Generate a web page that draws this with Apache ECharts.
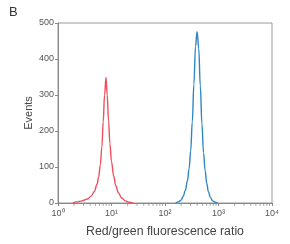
<!DOCTYPE html>
<html><head><meta charset="utf-8">
<script src="https://cdn.jsdelivr.net/npm/echarts@6/dist/echarts.min.js"></script>
<style>html,body{margin:0;padding:0;background:#fff}#c{width:290px;height:244px}</style>
</head><body><div id="c"></div>
<script>
// Red population: [ratio, events]
const redX = [1.905,2.239,2.818,3.548,4.169,4.786,5.370,5.754,6.166,6.607,6.998,7.413,7.889,8.318,8.810,9.333,10.00,10.96,12.02,13.49,15.49,18.20,21.38,25.12];
const redY = [0,3,6,11,19,32,52,72,105,155,225,300,349,300,228,165,115,75,48,28,14,6,2,0];
// Blue population
const blueX = [158.5,177.8,199.5,218.8,240.0,263.0,281.8,302.0,323.6,346.7,371.5,398.1,426.6,457.1,489.8,524.8,562.3,602.6,645.7,707.9,776.2,870.9,955.0];
const blueY = [0,3,8,18,35,62,95,145,225,330,435,476,430,325,220,140,90,55,32,15,6,2,0];
const xMajorTicks = [1,10,100,1000,10000];
const xMajorLabels = ['10\u2070','10\u00b9','10\u00b2','10\u00b3','10\u2074'];
const xMinorTicks = [2,3,4,5,6,7,8,9,20,30,40,50,60,70,80,90,200,300,400,500,600,700,800,900,2000,3000,4000,5000,6000,7000,8000,9000];

const zip = (a,b)=>a.map((v,i)=>[v,b[i]]);
const chart = echarts.init(document.getElementById('c'));
const font = 'Liberation Sans, Arial, sans-serif';
chart.setOption({
  animation:false,
  title:{text:'B',left:4,top:1,textStyle:{fontFamily:font,fontSize:13,fontWeight:'normal',color:'#333'}},
  grid:{left:58,right:18,top:23,bottom:41,show:true,borderColor:'#999',borderWidth:1,outerBoundsMode:'none',containLabel:false},
  xAxis:[{
    type:'log',min:1,max:10000,logBase:10,
    name:'Red/green fluorescence ratio',nameLocation:'middle',nameGap:23,nameMoveOverlap:false,
    nameTextStyle:{fontFamily:font,fontSize:12.3,color:'#444'},
    axisLine:{lineStyle:{color:'#888'}},
    axisTick:{show:true,length:3,lineStyle:{color:'#888'}},
    axisLabel:{fontFamily:font,fontSize:9,color:'#555',margin:6,
      formatter:(v)=>xMajorLabels[xMajorTicks.indexOf(Math.round(v))]||''},
    splitLine:{show:false}
  }],
  yAxis:{
    type:'value',min:0,max:500,interval:100,
    name:'Events',nameLocation:'middle',nameGap:24,nameMoveOverlap:false,
    nameTextStyle:{fontFamily:font,fontSize:11,color:'#444'},
    axisLine:{show:true,lineStyle:{color:'#888'}},
    axisTick:{show:true,length:3,lineStyle:{color:'#888'}},
    axisLabel:{fontFamily:font,fontSize:9,color:'#555',margin:4},
    splitLine:{show:false}
  },
  series:[
    {type:'line',data:zip(redX,redY),smooth:0.4,smoothMonotone:'x',symbol:'none',lineStyle:{color:'#ef4f5c',width:1.4},z:3},
    {type:'line',data:zip(blueX,blueY),smooth:0.4,smoothMonotone:'x',symbol:'none',lineStyle:{color:'#2f86c2',width:1.4},z:3},
    {type:'scatter',data:xMinorTicks.map(v=>[v,0]),symbol:'rect',symbolSize:[1,2.5],symbolOffset:[0,1.5],
     itemStyle:{color:'#888'},silent:true,z:2}
  ]
});
</script></body></html>
